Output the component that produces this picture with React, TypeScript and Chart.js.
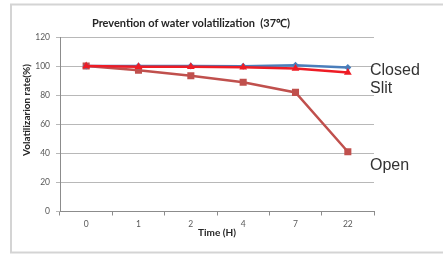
import React, { useEffect, useRef } from "react";
import { Chart, registerables } from "chart.js";

Chart.register(...registerables);

const categories = ["0", "1", "2", "4", "7", "22"];
const closedValues = [100, 100, 100, 99.8, 100.6, 99.1];
const slitValues = [100, 99.6, 99.5, 99.2, 98.4, 95.6];
const openValues = [100, 97.2, 93.4, 88.9, 81.9, 41.1];
const yTicks = [0, 20, 40, 60, 80, 100, 120];
const seriesLabels = ["Closed", "Slit", "Open"];
const seriesLabelAnchors = [96.7, 84.8, 31.6];
const chartTitle = "Prevention of water volatilization  (37\u2103)";
const xTitle = "Time (H)";
const yTitle = "Volatilizarion rate(%)";

const FONT = "Lato, 'Open Sans', 'Liberation Sans', sans-serif";

const overlayPlugin = {
  id: "overlay",
  beforeDraw(chart: any) {
    const ctx = chart.ctx;
    ctx.save();
    ctx.fillStyle = "#ffffff";
    ctx.fillRect(0, 0, chart.width, chart.height);
    ctx.strokeStyle = "#d4d4d4";
    ctx.lineWidth = 2;
    ctx.strokeRect(11, 4.5, 440, 248);
    ctx.restore();
  },
  afterDraw(chart: any) {
    const ctx = chart.ctx;
    const y = chart.scales.y;
    ctx.save();
    ctx.fillStyle = "#262626";
    ctx.font = `bold 11px ${FONT}`;
    ctx.textAlign = "center";
    ctx.textBaseline = "middle";
    ctx.fillText(chartTitle, 191, 23);
    ctx.save();
    ctx.translate(27, 110);
    ctx.rotate(-Math.PI / 2);
    ctx.font = `bold 10px ${FONT}`;
    ctx.fillText(yTitle, 0, 0);
    ctx.restore();
    ctx.font = "16px 'Liberation Sans', Arial, sans-serif";
    ctx.fillStyle = "#333333";
    ctx.textAlign = "left";
    seriesLabels.forEach((t, i) => {
      ctx.fillText(t, 370, y.getPixelForValue(seriesLabelAnchors[i]));
    });
    ctx.restore();
  },
};

export default function App() {
  const ref = useRef<HTMLCanvasElement>(null);
  useEffect(() => {
    document.body.style.margin = "0";
    const chart = new Chart(ref.current!, {
      type: "line",
      data: {
        labels: categories,
        datasets: [
          {
            label: "Open",
            data: openValues,
            borderColor: "#c0504d",
            backgroundColor: "#c0504d",
            borderWidth: 2.5,
            pointStyle: "rect",
            pointRadius: 5,
            pointBorderWidth: 0,
            order: 3,
          },
          {
            label: "Closed",
            data: closedValues,
            borderColor: "#4a7ebb",
            backgroundColor: "#4a7ebb",
            borderWidth: 2.5,
            pointStyle: "rectRot",
            pointRadius: 3.5,
            pointBorderWidth: 0,
            order: 2,
          },
          {
            label: "Slit",
            data: slitValues,
            borderColor: "#ee1c25",
            backgroundColor: "#ee1c25",
            borderWidth: 2.5,
            pointStyle: "triangle",
            pointRadius: 4.5,
            pointBorderWidth: 0,
            order: 1,
          },
        ],
      },
      options: {
        animation: false,
        responsive: false,
        layout: { padding: { left: 0, right: 69, top: 37, bottom: 0 } },
        plugins: { legend: { display: false }, title: { display: false }, tooltip: { enabled: false } },
        scales: {
          x: {
            type: "category",
            offset: true,
            afterFit: (s: any) => {
              s.height = 43.5;
            },
            grid: {
              display: true,
              drawOnChartArea: false,
              drawTicks: true,
              offset: true,
              tickLength: 4,
              color: "#8c8c8c",
            },
            border: { display: true, color: "#8c8c8c", width: 1 },
            ticks: {
              color: "#595959",
              font: { family: FONT, size: 8.5 },
              padding: 4,
              maxRotation: 0,
            },
            title: {
              display: true,
              text: xTitle,
              color: "#262626",
              font: { family: FONT, size: 10, weight: "bold" },
              padding: { top: 0, bottom: 16 },
            },
          },
          y: {
            min: 0,
            max: 120,
            afterFit: (s: any) => {
              s.width = 60;
            },
            afterBuildTicks: (s: any) => {
              s.ticks = yTicks.map((v) => ({ value: v }));
            },
            grid: {
              color: "#b8b8b8",
              lineWidth: 1,
              tickLength: 4,
              drawTicks: true,
            },
            border: { display: true, color: "#8c8c8c", width: 1 },
            ticks: {
              color: "#595959",
              font: { family: FONT, size: 8.5 },
              padding: 6,
            },
          },
        },
      },
      plugins: [overlayPlugin],
    } as any);
    return () => chart.destroy();
  }, []);
  return (
    <div style={{ position: "absolute", left: 0, top: 0, width: 443, height: 255 }}>
      <canvas ref={ref} width={443} height={255} style={{ width: 443, height: 255, display: "block" }} />
    </div>
  );
}
